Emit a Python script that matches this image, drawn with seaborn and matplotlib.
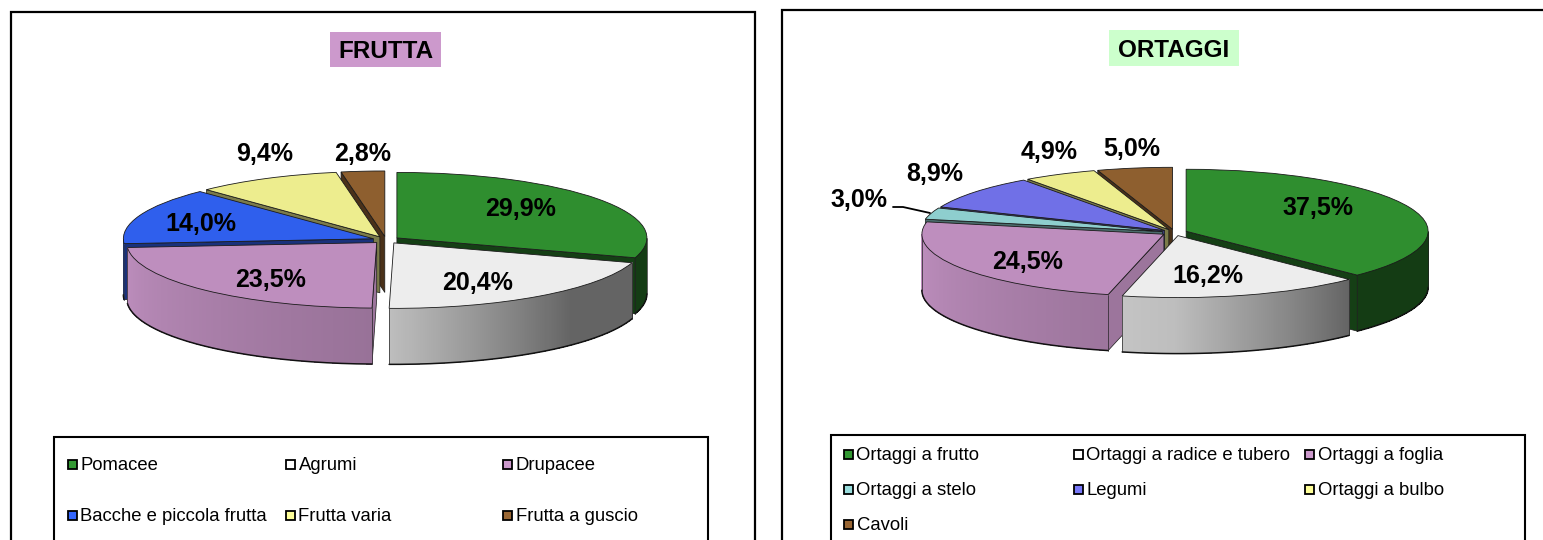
import numpy as np
import matplotlib
matplotlib.use("Agg")
import matplotlib.pyplot as plt
from matplotlib.patches import Rectangle
from matplotlib.colors import to_rgb
from matplotlib.lines import Line2D
import seaborn as sns

# ---------- data ----------
frutta_title = "FRUTTA"
frutta_categories = ["Pomacee", "Agrumi", "Drupacee", "Bacche e piccola frutta",
                     "Frutta varia", "Frutta a guscio"]
frutta_values = [29.9, 20.4, 23.5, 14.0, 9.4, 2.8]
frutta_colors = ["#339933", "#ffffff", "#cc99cc", "#3366ff", "#ffff99", "#996633"]

ortaggi_title = "ORTAGGI"
ortaggi_categories = ["Ortaggi a frutto", "Ortaggi a radice e tubero", "Ortaggi a foglia",
                      "Ortaggi a stelo", "Legumi", "Ortaggi a bulbo", "Cavoli"]
ortaggi_values = [37.5, 16.2, 24.5, 3.0, 8.9, 4.9, 5.0]
ortaggi_colors = ["#339933", "#ffffff", "#cc99cc", "#99dddd", "#7878f8", "#ffff99", "#996633"]

# ---------- layout (pixels of the 1543x540 canvas) ----------
W, H = 1543, 540
sns.set_theme(style="white")
plt.rcParams["font.family"] = ["Liberation Sans", "DejaVu Sans"]
fig = plt.figure(figsize=(W / 100, H / 100), dpi=100, facecolor="white")


def fx(x):
    return x / W


def fy(y):
    return 1 - y / H


def ftext(x, y, s, **kw):
    kw.setdefault("color", "black")
    return fig.text(fx(x), fy(y), s, transform=fig.transFigure, **kw)


def box(x0, y0, x1, y1, **kw):
    fig.add_artist(Rectangle((fx(x0), fy(y1)), fx(x1 - x0), fy(y0) - fy(y1),
                             transform=fig.transFigure, **kw))


def wall_shade(theta):
    return np.interp(theta, [90, 135, 181, 200, 270], [0.42, 0.42, 0.80, 0.84, 1.0])


def pie3d(values, colors, cx, cy, rx, ry, depth, explode):
    pad = 1.4
    ax = fig.add_axes([fx(cx - pad * rx), fy(cy + pad * ry), fx(2 * pad * rx), 2 * pad * ry / H])
    palette = sns.color_palette(colors)
    tops = [tuple(0.93 * c for c in col) for col in palette]
    wedges, _ = ax.pie(values, colors=tops, startangle=90, counterclock=False,
                       explode=[explode] * len(values), radius=1,
                       wedgeprops=dict(edgecolor="#1a1a1a", linewidth=0.6))
    ax.set_aspect("auto")
    ax.set_xlim(-pad, pad)
    ax.set_ylim(-pad, pad)
    ax.patch.set_alpha(0)
    d = depth / ry
    fr = np.asarray(values, float) / np.sum(values) * 360
    ends = np.cumsum(fr)
    starts = ends - fr
    mids = (starts + ends) / 2
    order = np.argsort(-np.cos(np.radians(mids)))
    for rank, i in enumerate(order):
        base = 2 + rank * 4
        a, b = starts[i], ends[i]
        mr = np.radians(mids[i])
        ox, oy = explode * np.sin(mr), explode * np.cos(mr)
        col = np.array(to_rgb(tops[i]))
        # radial faces
        for ang, visible, shade in [(b, np.sin(np.radians(b)) > 0, 0.44),
                                    (a, np.sin(np.radians(a)) < 0, 0.82 if a < 230 else 0.52)]:
            if not visible:
                continue
            r = np.radians(ang)
            px, py = ox + np.sin(r), oy + np.cos(r)
            ax.fill([ox, px, px, ox], [oy, py, py - d, oy - d], color=tuple(col * shade),
                    lw=0.5, ec="#1a1a1a", zorder=base, clip_on=False)
        # outer wall, front half only
        lo, hi = max(a, 90), min(b, 270)
        if hi > lo:
            th = np.linspace(lo, hi, max(2, int((hi - lo) / 0.5) + 1))
            xs = ox + np.sin(np.radians(th))
            ys = oy + np.cos(np.radians(th))
            for k in range(len(th) - 1):
                s = wall_shade((th[k] + th[k + 1]) / 2)
                c = tuple(col * s)
                ax.fill([xs[k], xs[k + 1], xs[k + 1], xs[k]],
                        [ys[k], ys[k + 1], ys[k + 1] - d, ys[k] - d],
                        facecolor=c, edgecolor="none", lw=0, antialiased=False,
                        zorder=base + 1, clip_on=False)
            ax.plot(xs, ys - d, color="#111111", lw=1.1, zorder=base + 2, clip_on=False)
            ax.plot([xs[0], xs[0]], [ys[0], ys[0] - d], color="#222222", lw=0.5,
                    zorder=base + 2, clip_on=False)
            ax.plot([xs[-1], xs[-1]], [ys[-1], ys[-1] - d], color="#222222", lw=0.5,
                    zorder=base + 2, clip_on=False)
        wedges[i].set_zorder(base + 3)
    return ax


def fmt(v):
    return f"{v:.1f}".replace(".", ",") + "%"


def value_labels(values, spots):
    for v, (x, y) in zip(values, spots):
        ftext(x, y + 2, fmt(v), fontsize=18, fontweight="bold", ha="center", va="center")


def legend(cats, colors, cols, rows):
    n = len(cols)
    for i, (c, col) in enumerate(zip(cats, colors)):
        mx = cols[i % n]
        my = rows[i // n]
        box(mx - 4.5, my - 4.5, mx + 4.5, my + 4.5, fc=col, ec="black", lw=1.3, zorder=5)
        ftext(mx + 8.5, my + 1.5, c, fontsize=13.3, ha="left", va="center", zorder=5)


# frames
box(11, 12, 755, 560, fc="white", ec="black", lw=1.6, zorder=0)
box(782, 10, 1560, 560, fc="white", ec="black", lw=1.6, zorder=0)
box(54, 437, 708, 560, fc="white", ec="black", lw=1.5, zorder=4)
box(831, 435, 1525, 560, fc="white", ec="black", lw=1.5, zorder=4)

# titles
box(330, 32, 441, 67, fc="#cc99cc", ec="none", zorder=3)
ftext(385.5, 52, frutta_title, fontsize=17.5, fontweight="bold", ha="center", va="center", zorder=5)
box(1109, 30, 1239, 66, fc="#ccffcc", ec="none", zorder=3)
ftext(1174, 50.5, ortaggi_title, fontsize=17.5, fontweight="bold", ha="center", va="center", zorder=5)

# pies
pie3d(frutta_values, frutta_colors, 386, 240, 250, 65.5, 56, 0.054)
pie3d(ortaggi_values, ortaggi_colors, 1174.5, 232.5, 242, 62, 56, 0.052)

value_labels(frutta_values, [(521, 207), (478, 281), (271, 278), (201, 222), (265, 152), (363, 152)])
value_labels(ortaggi_values, [(1318, 206), (1208, 274), (1028, 260), (859, 198), (935, 172),
                              (1049, 150), (1132, 147)])
fig.add_artist(Line2D([fx(893), fx(903), fx(930)], [fy(207), fy(207), fy(213)],
                      color="black", lw=1.3, transform=fig.transFigure))

# legends
legend(frutta_categories, frutta_colors, [72, 290, 507], [464, 515])
legend(ortaggi_categories, ortaggi_colors, [848, 1078, 1309], [454, 489, 524])

fig.savefig("out.png", dpi=100)
